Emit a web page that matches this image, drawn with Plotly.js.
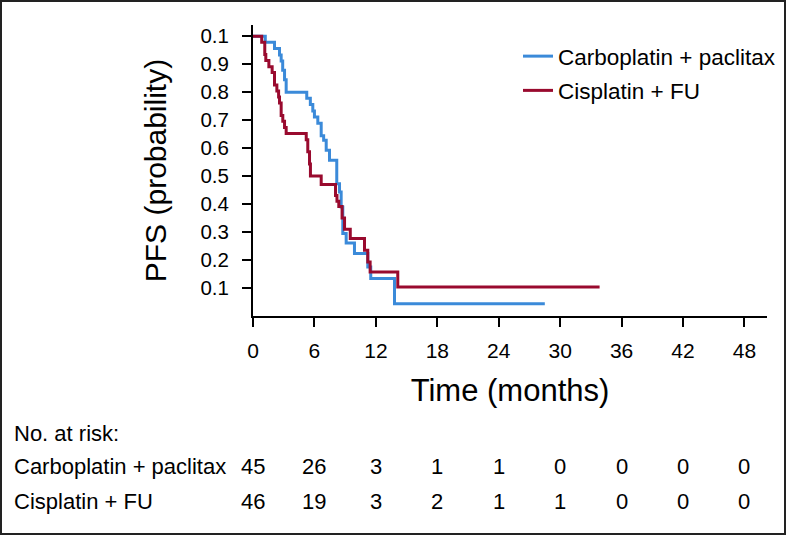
<!DOCTYPE html>
<html>
<head>
<meta charset="utf-8">
<script src="https://cdn.plot.ly/plotly-3.0.1.min.js"></script>
<style>
  html, body { margin: 0; padding: 0; background: #fff; }
  #chart { width: 787px; height: 535px; }
</style>
</head>
<body>
<div id="chart"></div>
<script>
// Kaplan-Meier steps (months, probability)
const carboTime = [0, 1.2, 2.1, 2.59, 2.75, 2.9, 3.08, 3.24, 5.25, 5.6, 5.84, 6.0, 6.33, 6.66, 6.9, 7.15, 7.47, 8.18, 8.45, 8.61, 8.77, 9.1, 9.91, 11.21, 11.5, 13.82, 28.5];
const carboPFS  = [1.0, 0.978, 0.956, 0.933, 0.911, 0.878, 0.844, 0.80, 0.778, 0.756, 0.733, 0.711, 0.689, 0.644, 0.628, 0.592, 0.557, 0.473, 0.443, 0.39, 0.295, 0.261, 0.223, 0.175, 0.134, 0.044, 0.044];

const cisTime = [0, 0.85, 1.15, 1.25, 1.55, 1.87, 2.1, 2.33, 2.5, 2.59, 2.75, 2.91, 3.08, 3.24, 5.2, 5.35, 5.52, 5.61, 6.66, 8.06, 8.2, 8.38, 8.7, 8.94, 9.5, 10.89, 11.21, 11.44, 14.14, 33.85];
const cisPFS  = [1.0, 0.978, 0.935, 0.913, 0.891, 0.870, 0.826, 0.804, 0.783, 0.761, 0.717, 0.696, 0.674, 0.652, 0.63, 0.587, 0.543, 0.50, 0.47, 0.431, 0.41, 0.391, 0.35, 0.31, 0.277, 0.235, 0.193, 0.157, 0.104, 0.104];

const seriesNames = ["Carboplatin + paclitax", "Cisplatin + FU"];
const seriesColors = ["#3b8ad9", "#990a2e"];

// axis ticks (top label really is printed as 0.1 in the source)
const xTicks = [0, 6, 12, 18, 24, 30, 36, 42, 48];
const yTicks = [0.1, 0.2, 0.3, 0.4, 0.5, 0.6, 0.7, 0.8, 0.9, 1.0];
const yTickText = ["0.1", "0.2", "0.3", "0.4", "0.5", "0.6", "0.7", "0.8", "0.9", "0.1"];

// number at risk table
const riskTimes = [0, 6, 12, 18, 24, 30, 36, 42, 48];
const carboRisk = [45, 26, 3, 1, 1, 0, 0, 0, 0];
const cisRisk   = [46, 19, 3, 2, 1, 1, 0, 0, 0];

const FONT = "Liberation Sans, Arial, sans-serif";

// plot area in pixels, used to place things outside it in paper units
const W = 787, H = 535;
const M = { l: 253, r: 20, t: 25, b: 219, autoexpand: false };
const pw = W - M.l - M.r;
const ph = H - M.t - M.b;
function px(x) { return (x - M.l) / pw; }
function py(y) { return (H - M.b - y) / ph; }

function makeTraces() {
    return [
        {
            x: carboTime, y: carboPFS, name: seriesNames[0], legendgroup: "a",
            type: "scatter", mode: "lines",
            line: { color: seriesColors[0], width: 3, shape: "hv" }
        },
        {
            x: cisTime, y: cisPFS, name: seriesNames[1], legendgroup: "b",
            type: "scatter", mode: "lines",
            line: { color: seriesColors[1], width: 3, shape: "hv" }
        }
    ];
}

function riskAnnotations() {
    const anns = [];
    const rowY = [py(466), py(501)];
    anns.push({
        xref: "paper", yref: "paper", x: px(12), y: py(433),
        xanchor: "left", yanchor: "middle", showarrow: false,
        text: "No. at risk:", font: { family: FONT, size: 22, color: "#000" }
    });
    const rows = [carboRisk, cisRisk];
    rows.forEach(function(row, r) {
        anns.push({
            xref: "paper", yref: "paper", x: px(12), y: rowY[r],
            xanchor: "left", yanchor: "middle", showarrow: false,
            text: seriesNames[r], font: { family: FONT, size: 22, color: "#000" }
        });
        row.forEach(function(v, i) {
            anns.push({
                xref: "x", yref: "paper", x: riskTimes[i], y: rowY[r],
                xanchor: "center", yanchor: "middle", showarrow: false,
                text: String(v), font: { family: FONT, size: 22, color: "#000" }
            });
        });
    });
    return anns;
}

const layout = {
    width: W, height: H,
    margin: M,
    paper_bgcolor: "#fff", plot_bgcolor: "#fff",
    font: { family: FONT, color: "#000" },
    showlegend: true,
    legend: {
        x: px(518), y: py(35), xanchor: "left", yanchor: "top",
        font: { family: FONT, size: 22.5, color: "#000" },
        bgcolor: "rgba(0,0,0,0)", tracegroupgap: 2
    },
    xaxis: {
        range: [0, 50.2], tickvals: xTicks, ticks: "outside", ticklen: 9, tickwidth: 2,
        tickcolor: "#000", showline: true, linecolor: "#000", linewidth: 2,
        showgrid: false, zeroline: false,
        tickfont: { family: FONT, size: 21, color: "#000" }, ticklabelstandoff: 6,
        title: { text: "Time (months)", font: { family: FONT, size: 31, color: "#000" }, standoff: 18 }
    },
    yaxis: {
        range: [0, 1.04], tickvals: yTicks, ticktext: yTickText, ticks: "outside", ticklen: 9, tickwidth: 2,
        tickcolor: "#000", showline: true, linecolor: "#000", linewidth: 2,
        showgrid: false, zeroline: false,
        tickfont: { family: FONT, size: 20.5, color: "#000" }, ticklabelstandoff: 9,
        title: { text: "PFS (probability)", font: { family: FONT, size: 30, color: "#000" }, standoff: 25 }
    },
    annotations: riskAnnotations(),
    shapes: [{
        type: "rect", xref: "paper", yref: "paper",
        x0: px(1), x1: px(785), y0: py(534), y1: py(1),
        line: { color: "#222", width: 2 }, fillcolor: "rgba(0,0,0,0)"
    }]
};

Plotly.newPlot("chart", makeTraces(), layout, { displayModeBar: false, staticPlot: true });
</script>
</body>
</html>
